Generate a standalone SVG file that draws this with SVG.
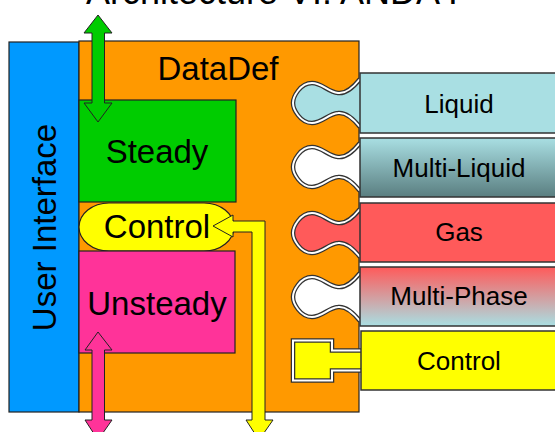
<svg xmlns="http://www.w3.org/2000/svg" width="555" height="432" viewBox="0 0 555 432">
<defs>
<linearGradient id="gML" x1="0" y1="0" x2="0" y2="1">
<stop offset="0" stop-color="#a9dfe3"/>
<stop offset="1" stop-color="#5a7e80"/>
</linearGradient>
<linearGradient id="gMP" x1="0" y1="0" x2="0" y2="1">
<stop offset="0" stop-color="#ff5a5a"/>
<stop offset="1" stop-color="#a9dfe3"/>
</linearGradient>
<path id="knob" d="M 0 -24 C -8 -14 -15 -9 -22 -10 C -32 -11 -38 -20 -48 -20 C -60 -20 -67 -6 -67 0 C -67 6 -60 20 -48 20 C -38 20 -32 11 -22 10 C -15 9 -8 14 0 24"/>
<path id="plug" d="M 0 -10 L -29 -10 L -29 -20 L -68 -20 L -68 20 L -29 20 L -29 10 L 0 10"/>
</defs>
<style>
text{font-family:"Liberation Sans",Arial,sans-serif;fill:#000}
.big{font-size:33px;text-anchor:middle}
.pan{font-size:26px;text-anchor:middle}
.box{stroke:#222;stroke-width:1.2}
.panel{stroke:#333;stroke-width:1.5}
.arr{stroke:#222;stroke-width:1}
.kout{fill:none;stroke:#333;stroke-width:4.5}
.kin{fill:none;stroke:#fff;stroke-width:2}
</style>
<text x="86" y="4" style="font-size:36px">Architecture VI: ANDA F</text>
<g id="ui">
<rect x="9" y="42" width="70" height="370" fill="#0099ff" class="box"/>
<text class="big" transform="translate(56,227.5) rotate(-90)">User Interface</text>
</g>
<g id="datadef">
<rect x="79" y="41" width="280" height="371" fill="#ff9900" class="box"/>
<text class="big" x="218" y="80">DataDef</text>
</g>
<g id="steady">
<rect x="79" y="100" width="157" height="102" fill="#00cc00" class="box"/>
<text class="big" x="157" y="163">Steady</text>
</g>
<g id="control-core">
<rect x="79" y="203" width="155" height="48" rx="30" ry="24" fill="#ffff00" class="box"/>
<text class="big" x="157" y="238">Control</text>
</g>
<g id="unsteady">
<rect x="79" y="251" width="156" height="102" fill="#ff3399" class="box"/>
<text class="big" x="157" y="315">Unsteady</text>
</g>
<g id="sockets">
<g transform="translate(360,103)"><use href="#knob" fill="#a9dfe3"/><use href="#knob" class="kout"/><use href="#knob" class="kin"/></g>
<g transform="translate(360,167)"><use href="#knob" fill="#fff"/><use href="#knob" class="kout"/><use href="#knob" class="kin"/></g>
<g transform="translate(360,233)"><use href="#knob" fill="#ff5a5a"/><use href="#knob" class="kout"/><use href="#knob" class="kin"/></g>
<g transform="translate(360,297)"><use href="#knob" fill="#fff"/><use href="#knob" class="kout"/><use href="#knob" class="kin"/></g>
<g transform="translate(361,360.5)"><use href="#plug" fill="#ffff00"/><use href="#plug" class="kout"/><use href="#plug" class="kin"/></g>
</g>
<g id="liquid">
<rect x="360" y="73" width="200" height="60" fill="#a9dfe3" class="panel"/>
<text class="pan" x="459" y="112.5">Liquid</text>
</g>
<g id="multi-liquid">
<rect x="360" y="138" width="200" height="59" fill="url(#gML)" class="panel"/>
<text class="pan" x="459" y="177">Multi-Liquid</text>
</g>
<g id="gas">
<rect x="360" y="203" width="200" height="59" fill="#ff5a5a" class="panel"/>
<text class="pan" x="459" y="241">Gas</text>
</g>
<g id="multi-phase">
<rect x="360" y="267" width="200" height="59" fill="url(#gMP)" class="panel"/>
<text class="pan" x="459" y="305">Multi-Phase</text>
</g>
<g id="control-ext">
<rect x="361" y="331" width="200" height="59" fill="#ffff00" class="panel"/>
<text class="pan" x="459" y="370">Control</text>
</g>
<g id="connectors">
<polygon class="arr" fill="#00cc00" points="98,15 112,33 104.5,33 104.5,103 112,103 98,122 84,103 92,103 92,33 84,33"/>
<polygon class="arr" fill="#ff3399" points="98,332 112,350 104.5,350 104.5,420 112,420 98,440 85,420 92,420 92,350 85,350"/>
<polygon class="arr" fill="#ffff00" points="213,226 233,215 233,221 265,221 265,420 273,420 259,440 246,420 252,420 252,232 233,232 233,237"/>
</g>
</svg>
